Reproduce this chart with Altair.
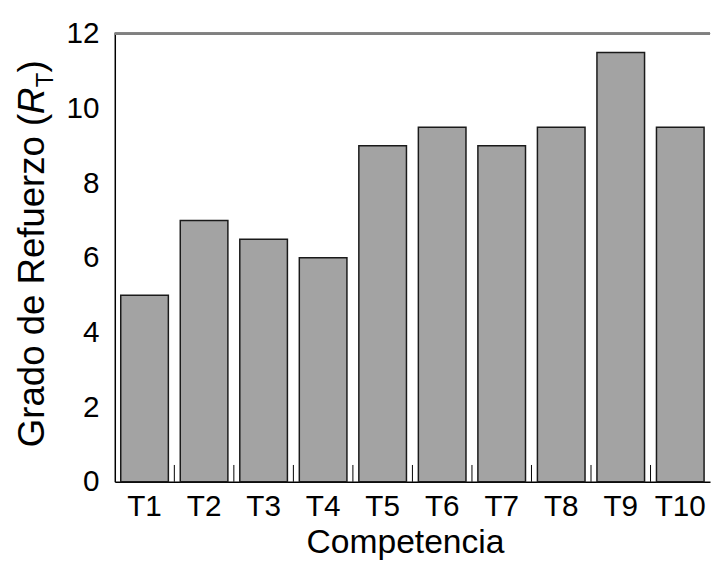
import altair as alt
import pandas as pd

categories = ["T1", "T2", "T3", "T4", "T5", "T6", "T7", "T8", "T9", "T10"]
values = [5, 7, 6.5, 6, 9, 9.5, 9, 9.5, 11.5, 9.5]
y_tick_values = [0, 2, 4, 6, 8, 10, 12]
x_title = "Competencia"
y_title_main = "Grado de Refuerzo ("
y_title_sym = "R"
y_title_sub = "T"
y_title_end = ")"

FONT = "Liberation Sans"
W, H = 602, 453

df = pd.DataFrame({"cat": categories, "val": values})
xscale = alt.Scale(domain=categories, paddingInner=0.2, paddingOuter=0.1)
yscale = alt.Scale(domain=[0, 12], nice=False)
xaxis = alt.Axis(title=None, labelFontSize=30, labelFont=FONT, labelAngle=0,
                 tickSize=0, labelPadding=10, domainColor="black",
                 domainWidth=1.5, labelColor="black")
yaxis = alt.Axis(values=y_tick_values, title=None, tickSize=0, labelPadding=16,
                 labelFontSize=30, labelFont=FONT, grid=False,
                 domainColor="black", domainWidth=1.5, labelColor="black")

top_border = alt.Chart(df).mark_rule(color="#808080", strokeWidth=2).encode(
    y=alt.value(0), x=alt.value(0), x2=alt.value(W),
)

bars = alt.Chart(df).mark_bar(fill="#a3a3a3", stroke="#1a1a1a", strokeWidth=1.5).encode(
    x=alt.X("cat:N", scale=xscale, sort=categories, axis=xaxis),
    y=alt.Y("val:Q", scale=yscale, axis=yaxis),
)

xtick_df = pd.DataFrame({"cat": categories[1:]})
xticks = alt.Chart(xtick_df).mark_rule(color="black", strokeWidth=1, xOffset=-6).encode(
    x=alt.X("cat:N", scale=xscale, sort=categories, bandPosition=0, axis=xaxis),
    y=alt.value(H), y2=alt.value(H - 17),
)

xt = alt.Chart(pd.DataFrame({"t": [x_title]})).mark_text(
    font=FONT, fontSize=34, align="center", baseline="alphabetic", color="black"
).encode(text="t:N", x=alt.value(294), y=alt.value(525))

yt1 = alt.Chart(pd.DataFrame({"t": [y_title_main]})).mark_text(
    font=FONT, fontSize=37, align="left", baseline="alphabetic", angle=270, color="black"
).encode(text="t:N", x=alt.value(-72), y=alt.value(418))

yt2 = alt.Chart(pd.DataFrame({"t": [y_title_sym]})).mark_text(
    font=FONT, fontSize=37, fontStyle="italic", align="left", baseline="alphabetic",
    angle=270, color="black"
).encode(text="t:N", x=alt.value(-72), y=alt.value(81))

yt3 = alt.Chart(pd.DataFrame({"t": [y_title_sub]})).mark_text(
    font=FONT, fontSize=24, align="left", baseline="alphabetic", angle=270, color="black"
).encode(text="t:N", x=alt.value(-62), y=alt.value(54))

yt4 = alt.Chart(pd.DataFrame({"t": [y_title_end]})).mark_text(
    font=FONT, fontSize=37, align="left", baseline="alphabetic", angle=270, color="black"
).encode(text="t:N", x=alt.value(-72), y=alt.value(39))

chart = alt.layer(top_border, bars, xticks, xt, yt1, yt2, yt3, yt4).properties(
    width=W, height=H,
    autosize=alt.AutoSizeParams(type="none"),
    padding={"left": 108, "top": 23, "right": 3, "bottom": 80},
    background="white",
).configure_view(stroke=None)

chart.save("out.html", embed_options={"renderer": "svg", "actions": False})
